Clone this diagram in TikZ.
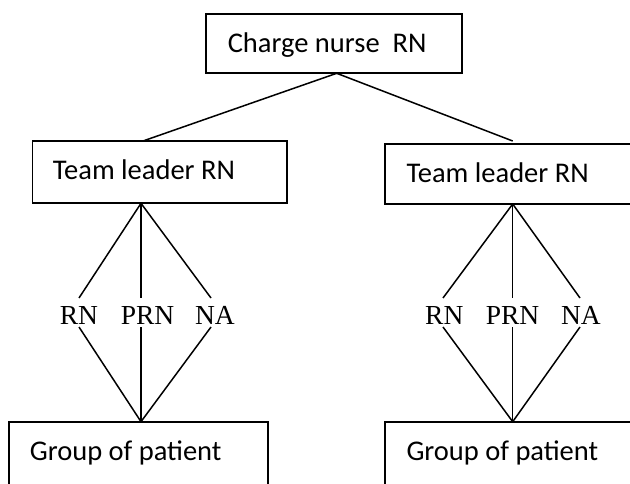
\documentclass[tikz,border=0pt]{standalone}
\usepackage{fontspec}
\setmainfont{Carlito}
\newfontfamily\stafffont{Liberation Serif}
\usetikzlibrary{calc}
\begin{document}
\begin{tikzpicture}[x=1pt, y=-1pt, line width=1.6pt,
  box/.style={draw, rectangle, inner sep=0pt, outer sep=0pt},
  boxtext/.style={anchor=base west, inner sep=0pt, font=\fontsize{28.5}{34}\selectfont},
  staff/.style={anchor=base, inner sep=0pt, font=\stafffont\fontsize{27.5}{32}\selectfont},
  link/.style={line width=1.5pt}]
\fill[white] (0,0) rectangle (630,484);
\useasboundingbox (0,0) rectangle (630,484);
\clip (0,0) rectangle (630,484);

% boxes
\node[box, minimum width=256, minimum height=59.3] (cn)  at (334,43.65) {};
\node[box, minimum width=254.7, minimum height=62.3] (tlL) at (159.65,172.15) {};
\node[box, minimum width=255, minimum height=60] (tlR) at (512.5,174) {};
\node[box, minimum width=258.7, minimum height=78.3] (gpL) at (138.35,460.85) {};
\node[box, minimum width=255, minimum height=78.3] (gpR) at (512.5,460.85) {};

% box texts
\node[boxtext] (cnT)  at (227,52.3)  {Charge nurse\ \ RN};
\node[boxtext] (tlLT) at (52,179.3)  {Team leader RN};
\node[boxtext] (tlRT) at (405.7,182.5) {Team leader RN};
\node[boxtext] (gpLT) at (29,460)    {Group of patient};
\node[boxtext] (gpRT) at (405.7,460) {Group of patient};

% charge nurse to team leaders
\draw[link] ($(cn.south)+(2.7,0)$) -- ($(tlL.north west)+(110.7,0)$);
\draw[link] ($(cn.south)+(2.7,0)$) -- ($(tlR.north west)+(127.7,-3)$);

% staff labels
\node[staff] (rnL)  at (79,324)    {RN};
\node[staff] (prnL) at (147.5,324) {PRN};
\node[staff] (naL)  at (215,324)   {NA};
\node[staff] (rnR)  at (444.3,324) {RN};
\node[staff] (prnR) at (512.5,324) {PRN};
\node[staff] (naR)  at (581,324)   {NA};

% fan apexes
\coordinate (tL) at ($(tlL.south west)+(108.7,0)$);
\coordinate (bL) at ($(gpL.north west)+(132,0)$);
\coordinate (tR) at ($(tlR.south west)+(127.7,0)$);
\coordinate (bR) at ($(gpR.north west)+(127.7,0)$);

% team members: each line broken around its label
\foreach \apx/\bpx/\dx in {tL/bL/-62, tL/bL/0, tL/bL/70, tR/bR/-69.7, tR/bR/0, tR/bR/67.3} {
  \draw[link] (\apx) -- ($(\apx |- 0,298)+(\dx,0)$);
  \draw[link] ($(\bpx |- 0,327)+(\dx,0)$) -- (\bpx);
}
\end{tikzpicture}
\end{document}
